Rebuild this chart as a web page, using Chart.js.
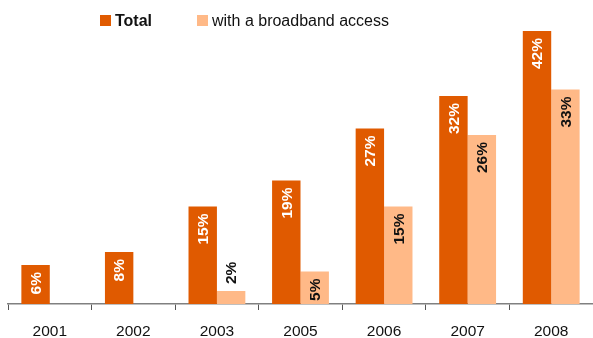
<!DOCTYPE html>
<html>
<head>
<meta charset="utf-8">
<script src="https://cdn.jsdelivr.net/npm/chart.js@4.4.1/dist/chart.umd.min.js"></script>
<style>
html,body{margin:0;padding:0;background:#fff;}
#wrap{width:593px;height:338px;position:relative;}
</style>
</head>
<body>
<div id="wrap"><canvas id="c"></canvas></div>
<script>
const years = ["2001","2002","2003","2005","2006","2007","2008"];
const totalValues = [6, 8, 15, 19, 27, 32, 42];
const broadbandValues = [null, null, 2, 5, 15, 26, 33];
const seriesNames = ["Total", "with a broadband access"];
const colTotal = "#E05A00";
const colBroad = "#FFB987";
const FONT = "'Liberation Sans', Arial, sans-serif";

const labelPlugin = {
  id: 'barLabels',
  afterDatasetsDraw(chart) {
    const ctx = chart.ctx;
    ctx.save();
    ctx.font = "bold 15.5px " + FONT;
    chart.data.datasets.forEach((ds, di) => {
      const meta = chart.getDatasetMeta(di);
      meta.data.forEach((bar, i) => {
        const v = ds.data[i];
        if (v === null || v === undefined) return;
        const txt = v + "%";
        const w = ctx.measureText(txt).width;
        const h = bar.base - bar.y;
        ctx.save();
        ctx.translate(bar.x, bar.y);
        ctx.rotate(-Math.PI / 2);
        ctx.textBaseline = 'middle';
        if (h < w + 6) {
          ctx.textAlign = 'left';
          ctx.fillStyle = '#111';
          ctx.fillText(txt, 7, 1);
        } else {
          ctx.textAlign = 'right';
          ctx.fillStyle = di === 0 ? '#fff' : '#111';
          ctx.fillText(txt, -7, 1);
        }
        ctx.restore();
      });
    });
    ctx.restore();
  }
};

const legendPlugin = {
  id: 'customLegend',
  afterDraw(chart) {
    const ctx = chart.ctx;
    ctx.save();
    ctx.textBaseline = 'alphabetic';
    ctx.fillStyle = colTotal;
    ctx.fillRect(100, 15, 11, 11);
    ctx.fillStyle = '#111';
    ctx.font = "bold 16px " + FONT;
    ctx.fillText(seriesNames[0], 115, 26);
    ctx.fillStyle = colBroad;
    ctx.fillRect(197, 15, 11, 11);
    ctx.fillStyle = '#111';
    ctx.font = "16px " + FONT;
    ctx.fillText(seriesNames[1], 212, 26);
    ctx.restore();
  }
};

new Chart(document.getElementById('c'), {
  type: 'bar',
  data: {
    labels: years,
    datasets: [
      { label: seriesNames[0], data: totalValues, backgroundColor: colTotal, borderWidth: 0 },
      { label: seriesNames[1], data: broadbandValues, backgroundColor: colBroad, borderWidth: 0 }
    ]
  },
  options: {
    responsive: true,
    maintainAspectRatio: false,
    animation: false,
    layout: { padding: { top: 11.5, left: 8, right: 0, bottom: 0 } },
    datasets: { bar: { barPercentage: 1, categoryPercentage: 0.68 } },
    plugins: { legend: { display: false }, tooltip: { enabled: false } },
    scales: {
      x: {
        z: 1,
        afterFit(s) { s.height = 34; },
        grid: { offset: true, drawOnChartArea: false, drawTicks: true, tickLength: 6, color: '#555', lineWidth: 1 },
        border: { display: true, color: '#808080', width: 1.5 },
        ticks: { color: '#111', font: { family: FONT, size: 15.5 }, padding: 12 }
      },
      y: {
        display: false,
        min: 0,
        max: 45
      }
    }
  },
  plugins: [labelPlugin, legendPlugin]
});
</script>
</body>
</html>
